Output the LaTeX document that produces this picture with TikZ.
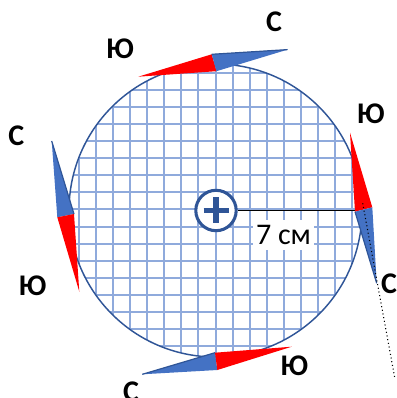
\documentclass[tikz,border=0pt]{standalone}
\usepackage{fontspec}
\setmainfont{Carlito}
\definecolor{gridblue}{HTML}{8FAADC}
\definecolor{darkblue}{HTML}{2F5597}
\definecolor{needleblue}{HTML}{4472C4}
\definecolor{needlered}{HTML}{FF0000}
\tikzset{
  gridline/.style={gridblue, line width=1.5pt},
  rimline/.style={darkblue, line width=1.1pt},
  lbl/.style={inner sep=0pt, font=\fontsize{22.5}{26}\selectfont\bfseries},
  redhalf/.style={fill=needlered},
  bluehalf/.style={fill=needleblue},
  blueedge/.style={darkblue, line width=0.9pt},
}
\begin{document}
\begin{tikzpicture}[x=0.75pt,y=-0.75pt]
\useasboundingbox (0,0) rectangle (396,398);
\coordinate (O) at (215.5,210.5);
% grid
\begin{scope}
  \clip (O) circle (146.5);
  \foreach \k in {-9,...,9} {
    \draw[gridline] (215.5+\k*17.05, 50) -- (215.5+\k*17.05, 370);
    \draw[gridline] (60, 209.5+\k*17.05) -- (370, 209.5+\k*17.05);
  }
\end{scope}
\draw[rimline] (O) circle (146.5);
% centre mark
\node[circle, draw=darkblue, line width=2.3pt, fill=white, minimum size=30.3pt, inner sep=0pt] (c) at (216,210.5) {};
\draw[darkblue, line width=3.8pt] (203.5,210.5) -- (228.5,210.5);
\draw[darkblue, line width=3.8pt] (216,197.5) -- (216,223.5);
% radius
\coordinate (rimR) at (357,210.5);
\draw[black, line width=0.9pt] (c.east) -- (rimR);
\node[fill=white, inner xsep=2pt, inner ysep=4pt, anchor=base, font=\fontsize{22.5}{26}\selectfont] (r) at (283.5,244.3) {7 см};
% top needle
\coordinate (tS) at (138.3,76.7); \coordinate (tA) at (211.7,54.3);
\coordinate (tB) at (216.5,71.2); \coordinate (tN) at (287.7,49.6);
\fill[redhalf] (tS) -- (tA) -- (tB) -- cycle;
\fill[bluehalf] (tA) -- (tN) -- (tB) -- cycle;
\draw[blueedge] (tA) -- (tN);
% right needle
\coordinate (rS) at (350,132.7); \coordinate (rA) at (355,211.7);
\coordinate (rB) at (372.3,207.3); \coordinate (rN) at (376.7,283.3);
\fill[redhalf] (rS) -- (rA) -- (rB) -- cycle;
\fill[bluehalf] (rA) -- (rN) -- (rB) -- cycle;
\draw[blueedge] (rA) -- (rN);
% left needle
\coordinate (lN) at (51.7,141); \coordinate (lA) at (57.3,217.3);
\coordinate (lB) at (74,214); \coordinate (lS) at (79.3,291.7);
\fill[bluehalf] (lN) -- (lA) -- (lB) -- cycle;
\fill[redhalf] (lA) -- (lS) -- (lB) -- cycle;
\draw[blueedge] (lN) -- (lB);
% bottom needle
\coordinate (bN) at (142.3,374.3); \coordinate (bA) at (215,352.7);
\coordinate (bB) at (217.3,370); \coordinate (bS) at (291.7,346.7);
\fill[bluehalf] (bN) -- (bA) -- (bB) -- cycle;
\fill[redhalf] (bA) -- (bS) -- (bB) -- cycle;
\draw[blueedge] (bN) -- (bA);
% dotted axis
\coordinate (d1) at (362.7,203.3); \coordinate (d2) at (395,379.3);
\draw[dotted, line width=0.8pt] (d1) -- (d2);
% labels
\node[lbl] (l1) at (274,22) {С};
\node[lbl] (l2) at (120,48.5) {Ю};
\node[lbl] (l3) at (370.8,114.2) {Ю};
\node[lbl] (l4) at (389,283.5) {С};
\node[lbl] (l5) at (16.2,135.8) {С};
\node[lbl] (l6) at (32.5,285.8) {Ю};
\node[lbl] (l7) at (131,392) {С};
\node[lbl] (l8) at (294.2,365.8) {Ю};
\end{tikzpicture}
\end{document}
